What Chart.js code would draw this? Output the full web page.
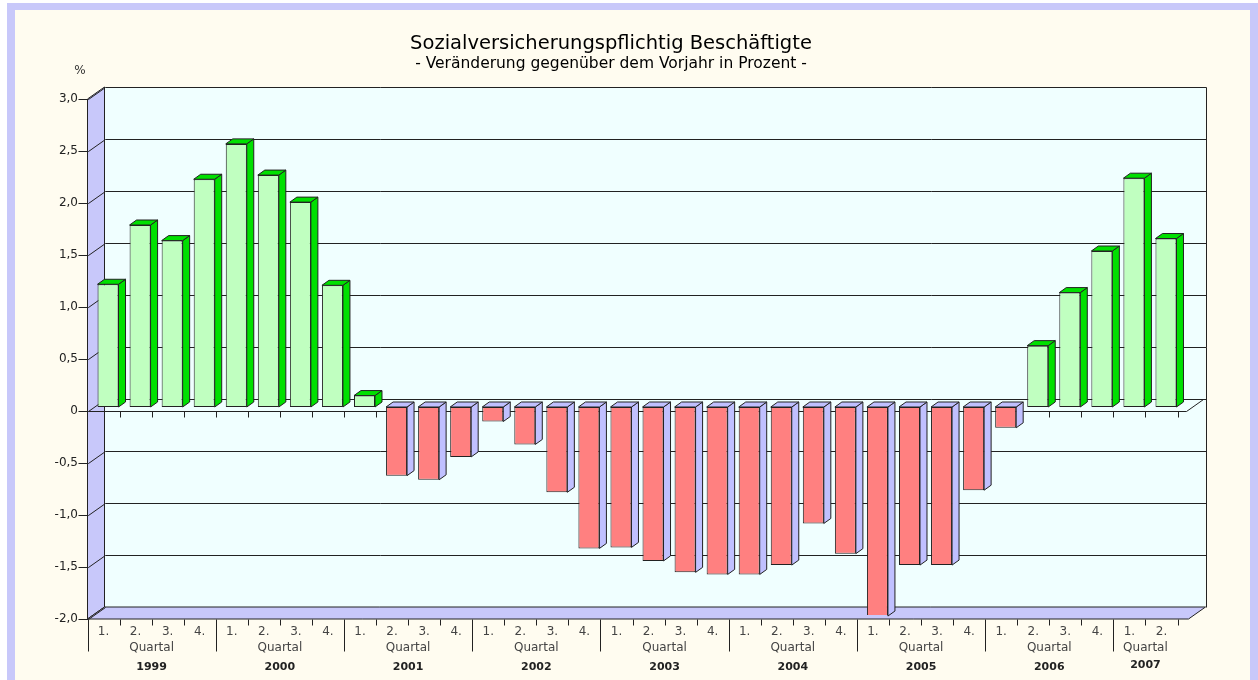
<!DOCTYPE html>
<html>
<head>
<meta charset="utf-8">
<title>Sozialversicherungspflichtig Beschäftigte</title>
<script src="https://cdn.jsdelivr.net/npm/chart.js@4.4.1/dist/chart.umd.min.js"></script>
<style>
html, body { margin: 0; padding: 0; background: #fff; overflow: hidden; }
#frame { position: absolute; left: 7px; top: 3px; width: 1251px; height: 700px; box-sizing: border-box;
  border: 8px solid #c8c8fa; border-top-width: 7px; background: #fffcf0; }
#chart { position: absolute; left: 0; top: 0; }
</style>
</head>
<body>
<div id="frame"></div>
<canvas id="chart" width="1258" height="680"></canvas>
<script>
// Daten
var years = ["1999", "2000", "2001", "2002", "2003", "2004", "2005", "2006", "2007"];
var quartersPerYear = [4, 4, 4, 4, 4, 4, 4, 4, 2];
var quarterLabels = ["1.", "2.", "3.", "4.", "1.", "2.", "3.", "4.", "1.", "2.", "3.", "4.",
  "1.", "2.", "3.", "4.", "1.", "2.", "3.", "4.", "1.", "2.", "3.", "4.",
  "1.", "2.", "3.", "4.", "1.", "2.", "3.", "4.", "1.", "2."];
var values = [1.18, 1.75, 1.60, 2.19, 2.53, 2.23, 1.97, 1.17,
  0.11, -0.66, -0.70, -0.48,
  -0.14, -0.36, -0.82, -1.36,
  -1.35, -1.48, -1.59, -1.61,
  -1.61, -1.52, -1.12, -1.41,
  -2.01, -1.52, -1.52, -0.80,
  -0.20, 0.59, 1.10, 1.50,
  2.20, 1.62];
var yTickValues = [-2, -1.5, -1, -0.5, 0, 0.5, 1, 1.5, 2, 2.5, 3];
var yTickLabels = ["-2,0", "-1,5", "-1,0", "-0,5", "0", "0,5", "1,0", "1,5", "2,0", "2,5", "3,0"];

var FONT = '"DejaVu Sans", sans-serif';

// 3D-Versatz
var FRONT_DX = -4.5, FRONT_DY = 4;   // Balkenebene -> Vorderkante
var DEPTH_X = 17, DEPTH_Y = -12;     // Vorderkante -> Rückwand
var EXTRA_RIGHT = 11;
var BAR_DX = 7, BAR_DY = -5;

function poly(ctx, pts, fill) {
  ctx.beginPath();
  ctx.moveTo(pts[0][0], pts[0][1]);
  for (var i = 1; i < pts.length; i++) ctx.lineTo(pts[i][0], pts[i][1]);
  ctx.closePath();
  if (fill) { ctx.fillStyle = fill; ctx.fill(); }
  ctx.stroke();
}
function line(ctx, x1, y1, x2, y2) {
  ctx.beginPath();
  ctx.moveTo(Math.round(x1) + 0.5, Math.round(y1) + 0.5);
  ctx.lineTo(Math.round(x2) + 0.5, Math.round(y2) + 0.5);
  ctx.stroke();
}

var box3d = {
  id: 'box3d',
  beforeDatasetsDraw: function(chart) {
    var ctx = chart.ctx, a = chart.chartArea, y = chart.scales.y;
    var fl = a.left + FRONT_DX, fr = a.right + EXTRA_RIGHT + FRONT_DX;
    var ft = y.getPixelForValue(3) + FRONT_DY, fb = y.getPixelForValue(-2) + FRONT_DY;
    var bl = fl + DEPTH_X, br = fr + DEPTH_X, bt = ft + DEPTH_Y, bb = fb + DEPTH_Y;
    var cw = (a.right - a.left) / values.length;
    ctx.save();
    ctx.lineWidth = 1;
    ctx.strokeStyle = '#222';

    // Rückwand, Seitenwand, Boden
    ctx.fillStyle = '#f0ffff';
    ctx.fillRect(bl, bt, br - bl, bb - bt);
    poly(ctx, [[fl, ft], [bl, bt], [bl, bb], [fl, fb]], '#c8c8fa');
    poly(ctx, [[fl, fb], [bl, bb], [br, bb], [fr, fb]], '#c8c8fa');
    line(ctx, bl, bt, br, bt);
    line(ctx, br, bt, br, bb);

    // Gitternetz
    yTickValues.forEach(function(v) {
      var py = y.getPixelForValue(v) + FRONT_DY;
      line(ctx, fl - 10, py, fl, py);
      line(ctx, fl, py, bl, py + DEPTH_Y);
      if (v > -2 && v < 3) line(ctx, bl, py + DEPTH_Y, br, py + DEPTH_Y);
    });

    // Nullebene
    var z = y.getPixelForValue(0) + FRONT_DY;
    line(ctx, fl, z, fr - 3, z);
    line(ctx, fr - 3, z, br - 3, z + DEPTH_Y);
    for (var k = 1; k <= values.length; k++) {
      var tx = a.left + k * cw + FRONT_DX;
      line(ctx, tx, z, tx, z + 6);
    }

    // Achsenmarken unten
    var starts = [0];
    quartersPerYear.forEach(function(n, i) { starts.push(starts[i] + n); });
    for (var j = 0; j <= values.length; j++) {
      var sx = a.left + j * cw + FRONT_DX;
      var isYear = starts.indexOf(j) >= 0 && j < values.length;
      line(ctx, sx, fb, sx, fb + (isYear ? 32 : 6));
    }

    // Balken: Seiten- und Deckfläche
    chart.getDatasetMeta(0).data.forEach(function(bar, i) {
      var l = bar.x - bar.width / 2, r = bar.x + bar.width / 2;
      var t = Math.min(bar.y, bar.base), b = Math.max(bar.y, bar.base);
      var col = values[i] >= 0 ? '#00e000' : '#c0c0ff';
      poly(ctx, [[r, t], [r + BAR_DX, t + BAR_DY], [r + BAR_DX, b + BAR_DY], [r, b]], col);
      poly(ctx, [[l, t], [l + BAR_DX, t + BAR_DY], [r + BAR_DX, t + BAR_DY], [r, t]], col);
    });
    ctx.restore();
  },
  afterDraw: function(chart) {
    var ctx = chart.ctx, a = chart.chartArea;
    var cw = (a.right - a.left) / values.length;
    ctx.save();
    ctx.textAlign = 'center';
    ctx.textBaseline = 'middle';
    ctx.fillStyle = '#000';
    ctx.font = '19.5px ' + FONT;
    ctx.fillText('Sozialversicherungspflichtig Beschäftigte', 611, 44);
    ctx.font = '15.5px ' + FONT;
    ctx.fillText('- Veränderung gegenüber dem Vorjahr in Prozent -', 611, 64);
    ctx.font = '12px ' + FONT;
    ctx.fillStyle = '#333';
    ctx.fillText('%', 80, 71);

    var start = 0;
    quartersPerYear.forEach(function(n, i) {
      var cx = a.left + (start + n / 2) * cw + FRONT_DX;
      ctx.font = '12px ' + FONT;
      ctx.fillStyle = '#444';
      ctx.fillText('Quartal', cx, 648);
      ctx.font = 'bold 11px ' + FONT;
      ctx.fillStyle = '#222';
      ctx.fillText(years[i], cx, i === years.length - 1 ? 665 : 667);
      start += n;
    });
    ctx.restore();
  }
};

new Chart(document.getElementById('chart'), {
  type: 'bar',
  data: {
    labels: quarterLabels,
    datasets: [{
      data: values,
      backgroundColor: values.map(function(v) { return v >= 0 ? '#c0ffc0' : '#ff8080'; }),
      borderColor: '#222',
      borderWidth: 1,
      borderSkipped: false,
      categoryPercentage: 1,
      barPercentage: 0.655
    }]
  },
  options: {
    responsive: false,
    animation: false,
    devicePixelRatio: 1,
    layout: { padding: { left: 0, top: 95, right: 76, bottom: 0 } },
    plugins: { legend: { display: false }, title: { display: false }, tooltip: { enabled: false } },
    scales: {
      x: {
        afterFit: function(s) { s.height = 65; },
        grid: { display: false, drawTicks: false },
        border: { display: false },
        ticks: { padding: 10, labelOffset: FRONT_DX, color: '#444', maxRotation: 0, autoSkip: false,
          font: { family: FONT, size: 12 } }
      },
      y: {
        min: -2, max: 3,
        afterFit: function(s) { s.width = 92; },
        afterBuildTicks: function(s) { s.ticks = yTickValues.map(function(v) { return { value: v }; }); },
        grid: { display: false, drawTicks: false },
        border: { display: false },
        ticks: { padding: 14, labelOffset: 4, color: '#222',
          font: { family: FONT, size: 12 },
          callback: function(v) { return yTickLabels[yTickValues.indexOf(v)]; } }
      }
    }
  },
  plugins: [box3d]
});
</script>
</body>
</html>
